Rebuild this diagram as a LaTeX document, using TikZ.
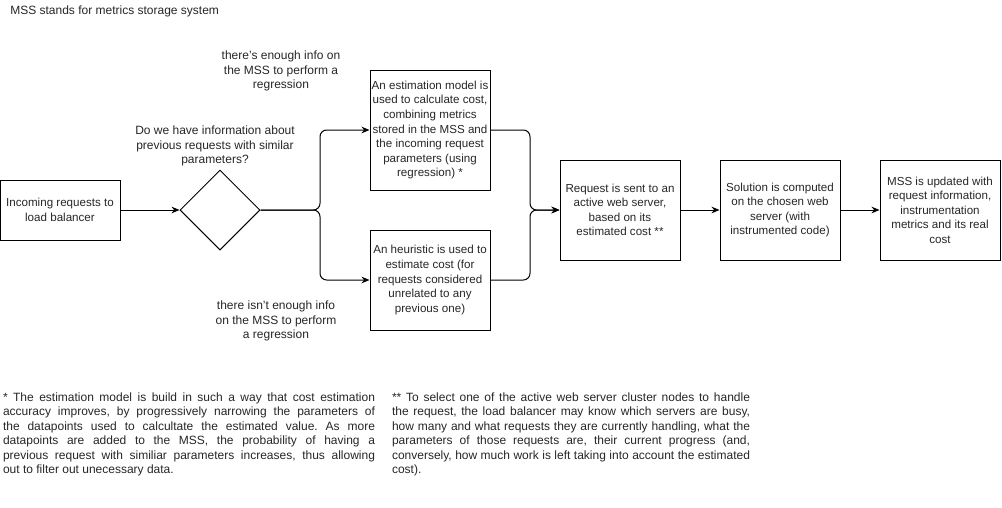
\documentclass[tikz,border=0pt]{standalone}
\usepackage{fontspec}
\setmainfont{Liberation Sans}
\usetikzlibrary{arrows.meta,shapes.geometric}
\frenchspacing
\begin{document}
\begin{tikzpicture}[x=0.75pt,y=-0.75pt,
  every node/.style={font=\fontsize{9}{10.9}\selectfont, text=black!85},
  box/.style={draw, line width=0.75pt, minimum width=90pt, align=center, inner xsep=1pt, inner ysep=2pt, font=\fontsize{8.7}{10.9}\selectfont},
  lbl/.style={align=center, inner sep=0pt},
  note/.style={align=justify, inner sep=0pt},
  conn/.style={line width=0.75pt, rounded corners=5pt, -{Stealth[length=6pt,width=5pt]}},
]
\useasboundingbox (0,0) rectangle (1002,507);
\node[anchor=west, inner sep=0pt] (title) at (10,11) {MSS stands for metrics storage system};

\node[box, minimum height=45pt] (inc) at (60,210) {Incoming requests to\\load balancer};
\node[draw, line width=0.75pt, diamond, minimum width=60pt, minimum height=60pt, inner sep=0pt] (d) at (220,210) {};
\node[lbl] (q) at (215,146) {Do we have information about\\previous requests with similar\\parameters?};

\node[box, minimum height=90pt] (b1) at (430,130) {An estimation model is\\used to calculate cost,\\combining metrics\\stored in the MSS and\\the incoming request\\parameters (using\\regression) *};
\node[box, minimum height=75pt] (b2) at (430,280) {An heuristic is used to\\estimate cost (for\\requests considered\\unrelated to any\\previous one)};

\node[lbl] (yes) at (281,71) {there's enough info on\\the MSS to perform a\\regression};
\node[lbl] (no) at (276,321) {there isn't enough info\\on the MSS to perform\\a regression};

\node[box, minimum height=75pt] (b3) at (620,210) {Request is sent to an\\active web server,\\based on its\\estimated cost **};
\node[box, minimum height=75pt] (b4) at (780,210) {Solution is computed\\on the chosen web\\server (with\\instrumented code)};
\node[box, minimum height=75pt] (b5) at (940,210) {MSS is updated with\\request information,\\instrumentation\\metrics and its real\\cost};

\coordinate (split) at (320,210);
\coordinate (merge) at (530,210);

\draw[conn] (inc.east) -- (d.west);
\draw[conn] (d.east) -- (split) |- (b1.west);
\draw[conn] (d.east) -- (split) |- (b2.west);
\draw[conn] (b1.east) -| (merge) -- (b3.west);
\draw[conn] (b2.east) -| (merge) -- (b3.west);
\draw[conn] (b3.east) -- (b4.west);
\draw[conn] (b4.east) -- (b5.west);

\node[note, text width=279pt] (n1) at (189,434.5) {* The estimation model is build in such a way that cost estimation\linebreak accuracy improves, by progressively narrowing the parameters of\linebreak the datapoints used to calcultate the estimated value. As more\linebreak datapoints are added to the MSS, the probability of having a\linebreak previous request with similiar parameters increases, thus allowing\linebreak out to filter out unecessary data.};
\node[note, text width=268.5pt] (n2) at (571,434.5) {** To select one of the active web server cluster nodes to handle\linebreak the request, the load balancer may know which servers are busy,\linebreak how many and what requests they are currently handling, what the\linebreak parameters of those requests are, their current progress (and,\linebreak conversely, how much work is left taking into account the estimated\linebreak cost).};
\end{tikzpicture}
\end{document}
